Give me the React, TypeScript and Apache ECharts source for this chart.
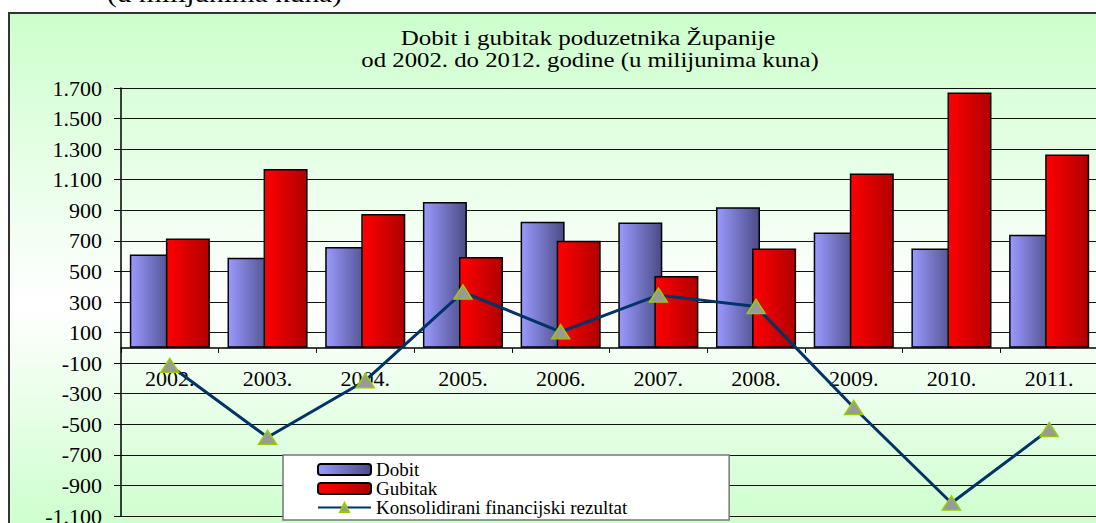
import React, { useEffect, useRef } from 'react';
import * as echarts from 'echarts';

const categories = ['2002.', '2003.', '2004.', '2005.', '2006.', '2007.', '2008.', '2009.', '2010.', '2011.'];
const dobit = [610, 590, 660, 955, 825, 820, 920, 755, 650, 740];
const gubitak = [715, 1170, 875, 595, 700, 470, 650, 1140, 1670, 1265];
const rezultat = [-115, -585, -215, 365, 105, 345, 270, -390, -1015, -535];
const seriesNames = ['Dobit', 'Gubitak', 'Konsolidirani financijski rezultat'];
const titleLines = ['Dobit i gubitak poduzetnika Županije', 'od 2002. do 2012. godine (u milijunima kuna)'];
const caption = '(u milijunima kuna)';
const yMin = -1100;
const yMax = 1700;
const yStep = 200;

const FONT = '"Liberation Serif", "Times New Roman", serif';

function fmt(v: number): string {
  const s = Math.round(Math.abs(v)).toString().replace(/\B(?=(\d{3})+(?!\d))/g, '.');
  return (v < 0 ? '-' : '') + s;
}

export default function App() {
  const ref = useRef<HTMLDivElement>(null);
  useEffect(() => {
    document.body.style.margin = '0';
    const chart = echarts.init(ref.current!, null, { renderer: 'svg' });
    const blue = new echarts.graphic.LinearGradient(0, 0, 1, 0, [
      { offset: 0, color: '#9a9aff' },
      { offset: 1, color: '#4b4b86' },
    ]);
    const red = new echarts.graphic.LinearGradient(0, 0, 1, 0, [
      { offset: 0, color: '#ff0000' },
      { offset: 1, color: '#b00000' },
    ]);
    const bg = new echarts.graphic.LinearGradient(0, 0, 0, 1, [
      { offset: 0, color: '#ccffcc' },
      { offset: 0.56, color: '#ffffff' },
      { offset: 1, color: '#ccffcc' },
    ]);
    chart.setOption({
      animation: false,
      backgroundColor: '#ffffff',
      graphic: [
        {
          type: 'rect', z: -10, silent: true,
          shape: { x: 9, y: 13, width: 1100, height: 520 },
          style: { fill: bg, stroke: '#333333', lineWidth: 2 },
        },
        {
          type: 'text', x: 107, y: -20, silent: true, scaleX: 1.13,
          style: { text: caption, fontFamily: FONT, fontSize: 26, fill: '#000', align: 'left', verticalAlign: 'top' },
        },
        {
          type: 'text', x: 588, y: 38, silent: true, scaleX: 1.19,
          style: { text: titleLines[0], fontFamily: FONT, fontSize: 21, fill: '#000', align: 'center', verticalAlign: 'middle' },
        },
        {
          type: 'text', x: 590, y: 60, silent: true, scaleX: 1.18,
          style: { text: titleLines[1], fontFamily: FONT, fontSize: 21, fill: '#000', align: 'center', verticalAlign: 'middle' },
        },
      ],
      grid: { left: 121, top: 88, right: -2, bottom: 7, outerBoundsMode: 'none', containLabel: false },
      legend: {
        orient: 'vertical', left: 283, top: 455, height: 90,
        padding: [5, 102, 3, 34],
        itemGap: 0, itemWidth: 53, itemHeight: 11,
        backgroundColor: '#ffffff', borderColor: '#777777', borderWidth: 1.5,
        textStyle: { fontFamily: FONT, fontSize: 19, lineHeight: 19, color: '#000' },
        data: seriesNames,
      },
      xAxis: {
        type: 'category', data: categories, position: 'bottom', offset: 0,
        axisLine: { onZero: false, lineStyle: { color: '#000', width: 1.5 } },
        axisTick: { show: true, length: 5, interval: 0, alignWithLabel: false, lineStyle: { color: '#000' } },
        axisLabel: { interval: 0, fontFamily: FONT, fontSize: 22, color: '#000', margin: 20 },
        splitLine: { show: false },
      },
      yAxis: {
        type: 'value', min: yMin, max: yMax, interval: yStep,
        axisLine: { show: true, lineStyle: { color: '#000', width: 1.5 } },
        axisTick: { show: true, length: 7, lineStyle: { color: '#000' } },
        axisLabel: { formatter: fmt, fontFamily: FONT, fontSize: 22, color: '#000', margin: 19 },
        splitLine: { show: true, lineStyle: { color: '#111111', width: 1 } },
      },
      series: [
        {
          name: seriesNames[0], type: 'bar', data: dobit, barWidth: 44, barGap: '-18%',
          itemStyle: { color: blue, borderColor: '#000', borderWidth: 1.5 },
        },
        {
          name: seriesNames[1], type: 'bar', data: gubitak, barWidth: 44, barGap: '-18%',
          itemStyle: { color: red, borderColor: '#000', borderWidth: 1.5 },
        },
        {
          name: seriesNames[2], type: 'line', data: rezultat, z: 5,
          symbol: 'triangle', symbolSize: [18, 14],
          itemStyle: { color: '#999999', borderColor: '#99cc00', borderWidth: 1.5 },
          lineStyle: { color: '#003366', width: 3 },
        },
      ],
    });
    // Move the category axis onto the value axis' zero, using the library's own scale.
    const zeroY = chart.convertToPixel({ yAxisIndex: 0 }, 0) as number;
    const bottomY = chart.convertToPixel({ yAxisIndex: 0 }, yMin) as number;
    chart.setOption({ xAxis: { offset: zeroY - bottomY } });
    return () => chart.dispose();
  }, []);
  return <div ref={ref} style={{ width: 1096, height: 523 }} />;
}
